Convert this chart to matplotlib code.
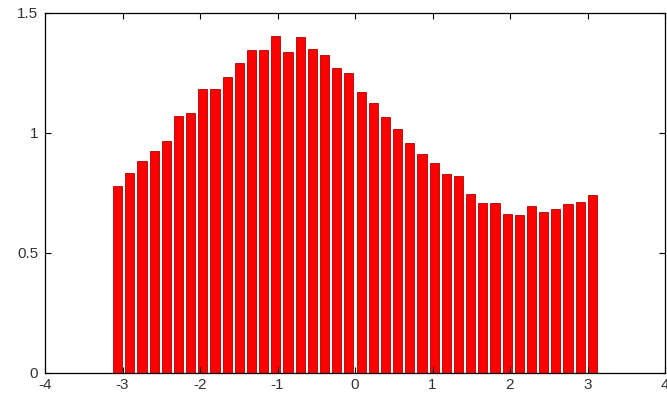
import matplotlib
matplotlib.use("Agg")
import matplotlib.pyplot as plt
import numpy as np

# bar centres: 40 equal bins over [-pi, pi]
n_bins = 40
bin_edges = np.linspace(-np.pi, np.pi, n_bins + 1)
bin_centres = (bin_edges[:-1] + bin_edges[1:]) / 2

heights = [
    0.780, 0.833, 0.882, 0.925, 0.968, 1.071, 1.085, 1.183, 1.183, 1.232,
    1.292, 1.345, 1.345, 1.405, 1.336, 1.399, 1.350, 1.324, 1.270, 1.249,
    1.172, 1.124, 1.065, 1.017, 0.957, 0.913, 0.876, 0.828, 0.822, 0.746,
    0.710, 0.710, 0.662, 0.657, 0.694, 0.672, 0.682, 0.704, 0.714, 0.742,
]

x_ticks = [-4, -3, -2, -1, 0, 1, 2, 3, 4]
x_tick_labels = ["-4", "-3", "-2", "-1", "0", "1", "2", "3", "4"]
y_ticks = [0, 0.5, 1, 1.5]
y_tick_labels = ["0", "0.5", "1", "1.5"]

plt.rcParams["font.family"] = ["Liberation Sans", "DejaVu Sans"]

fig = plt.figure(figsize=(6.67, 3.97), dpi=100)
ax = fig.add_axes([45 / 667, 24 / 397, 620 / 667, 360 / 397])

width = (bin_edges[1] - bin_edges[0]) * 0.75
ax.bar(bin_centres, heights, width=width, color="#ff0000",
       edgecolor="#b00000", linewidth=0.6)

ax.set_xlim(-4, 4)
ax.set_ylim(0, 1.5)
ax.set_xticks(x_ticks)
ax.set_xticklabels(x_tick_labels)
ax.set_yticks(y_ticks)
ax.set_yticklabels(y_tick_labels)

ax.tick_params(direction="in", length=4, width=0.8, top=True, right=True,
               labelsize=11, labelcolor="#333333")
ax.tick_params(axis="y", pad=5)
ax.tick_params(axis="x", pad=3.5)
for s in ax.spines.values():
    s.set_linewidth(0.9)
    s.set_color("black")

fig.savefig("out.png", dpi=100)
